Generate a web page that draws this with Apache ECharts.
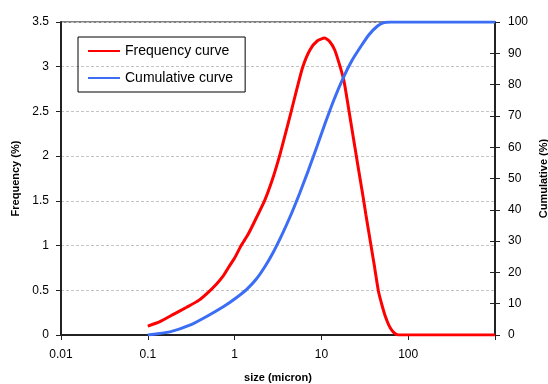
<!DOCTYPE html>
<html lang="en">
<head>
    <meta charset="UTF-8">
    <title>Particle size distribution</title>
    <script src="https://cdn.jsdelivr.net/npm/echarts@6/dist/echarts.min.js"></script>
    <style>
        html, body { margin: 0; padding: 0; background: #fff; }
    </style>
</head>
<body>
    <div id="main" style="width: 548px;height:384px;"></div>
    <script type="text/javascript">
        // size (micron) and values for each curve
        var freqSize = [0.1, 0.138, 0.197, 0.28, 0.39, 0.5, 0.62, 0.74, 0.87, 1.0, 1.19, 1.42, 1.66, 2.21, 2.75, 3.29, 3.85, 4.49, 5.21, 6.11, 7.4, 9.0, 10.9, 12.5, 14.2, 16.2, 18.2, 20.2, 22.5, 25, 27, 29.6, 32.5, 36, 40.5, 45.4, 50, 54, 58, 62, 67, 72, 77, 100, 1000];
        var freqVal  = [0.10, 0.15, 0.23, 0.31, 0.39, 0.48, 0.57, 0.66, 0.77, 0.86, 1.00, 1.12, 1.25, 1.50, 1.75, 2.00, 2.25, 2.50, 2.75, 3.00, 3.19, 3.29, 3.32, 3.28, 3.19, 3.02, 2.84, 2.58, 2.30, 2.03, 1.83, 1.60, 1.35, 1.09, 0.79, 0.49, 0.33, 0.22, 0.14, 0.08, 0.035, 0.01, 0, 0, 0];

        var cumSize = [0.1, 0.18, 0.31, 0.476, 0.74, 1.0, 1.38, 1.78, 2.24, 2.82, 3.55, 4.47, 5.62, 7.08, 8.91, 11.2, 14.1, 17.8, 22.4, 28.2, 35.5, 44.7, 52.5, 63, 100, 1000];
        var cumVal  = [0, 1.0, 3.2, 5.9, 9.0, 11.5, 14.6, 17.9, 21.9, 26.7, 32.3, 38.5, 45.3, 52.6, 60.3, 68.1, 75.5, 82.1, 87.6, 92.0, 96.0, 98.8, 99.8, 100, 100, 100];

        var xTicks = [0.01, 0.1, 1, 10, 100];

        function pairs(xs, ys) {
            var out = [];
            for (var i = 0; i < xs.length; i++) {
                out.push([xs[i], ys[i]]);
            }
            return out;
        }

        var font = 'Liberation Sans, Arial, sans-serif';
        var nameStyle = { fontFamily: font, fontSize: 11, fontWeight: 'bold', color: '#000' };
        var myChart = echarts.init(document.getElementById('main'));

        var option = {
            animation: false,
            textStyle: { fontFamily: font },
            grid: {
                left: 61, right: 53, top: 22, bottom: 49,
                containLabel: false,
                outerBoundsMode: 'none',
                show: true, borderColor: '#000', borderWidth: 1
            },
            legend: {
                orient: 'vertical',
                left: 78, top: 37,
                data: ['Frequency curve', 'Cumulative curve'],
                icon: 'rect',
                itemWidth: 32, itemHeight: 2,
                itemGap: 13,
                padding: [7, 12, 7, 10],
                borderColor: '#000', borderWidth: 1,
                textStyle: { fontFamily: font, fontSize: 14, color: '#000' }
            },
            xAxis: {
                type: 'log',
                logBase: 10,
                min: 0.01, max: 1000,
                name: 'size (micron)',
                nameLocation: 'middle',
                nameGap: 37,
                nameTextStyle: nameStyle,
                axisLine: { lineStyle: { color: '#222', width: 2 } },
                axisTick: { show: true, length: 5, lineStyle: { color: '#222' } },
                minorTick: { show: false },
                splitLine: { show: false },
                axisLabel: {
                    margin: 14, fontSize: 12, color: '#000', fontFamily: font,
                    formatter: function (v) {
                        return xTicks.indexOf(v) >= 0 ? String(v) : '';
                    }
                }
            },
            yAxis: [{
                type: 'value',
                min: 0, max: 3.5, interval: 0.5,
                name: 'Frequency (%)',
                nameLocation: 'middle',
                nameRotate: 90,
                nameGap: 38,
                nameTextStyle: nameStyle,
                axisLine: { show: true, lineStyle: { color: '#222', width: 2 } },
                axisTick: { show: true, length: 5, lineStyle: { color: '#222' } },
                axisLabel: { margin: 12, fontSize: 12, color: '#000', fontFamily: font },
                splitLine: { show: true, lineStyle: { color: '#c4c4c4', type: [3, 2], width: 1 } }
            }, {
                type: 'value',
                position: 'right',
                min: 0, max: 100, interval: 10,
                name: 'Cumulative (%)',
                nameLocation: 'middle',
                nameRotate: 90,
                nameGap: 34,
                nameTextStyle: nameStyle,
                axisLine: { show: true, lineStyle: { color: '#222', width: 2 } },
                axisTick: { show: true, length: 5, lineStyle: { color: '#222' } },
                axisLabel: { margin: 13, fontSize: 12, color: '#000', fontFamily: font },
                splitLine: { show: false }
            }, {
                // inner half of the crossing ticks on the right axis
                type: 'value',
                position: 'right',
                min: 0, max: 100, interval: 10,
                axisLine: { show: false },
                axisTick: { show: true, inside: true, length: 5, lineStyle: { color: '#222' } },
                axisLabel: { show: false },
                splitLine: { show: false }
            }],
            series: [{
                name: 'Frequency curve',
                type: 'line',
                yAxisIndex: 0,
                symbol: 'none',
                smooth: 0.2,
                color: '#ff0000',
                lineStyle: { color: '#ff0000', width: 3 },
                data: pairs(freqSize, freqVal)
            }, {
                name: 'Cumulative curve',
                type: 'line',
                yAxisIndex: 1,
                symbol: 'none',
                smooth: 0.2,
                color: '#3b6ef5',
                lineStyle: { color: '#3b6ef5', width: 3 },
                data: pairs(cumSize, cumVal)
            }]
        };

        myChart.setOption(option);
    </script>
</body>
</html>
